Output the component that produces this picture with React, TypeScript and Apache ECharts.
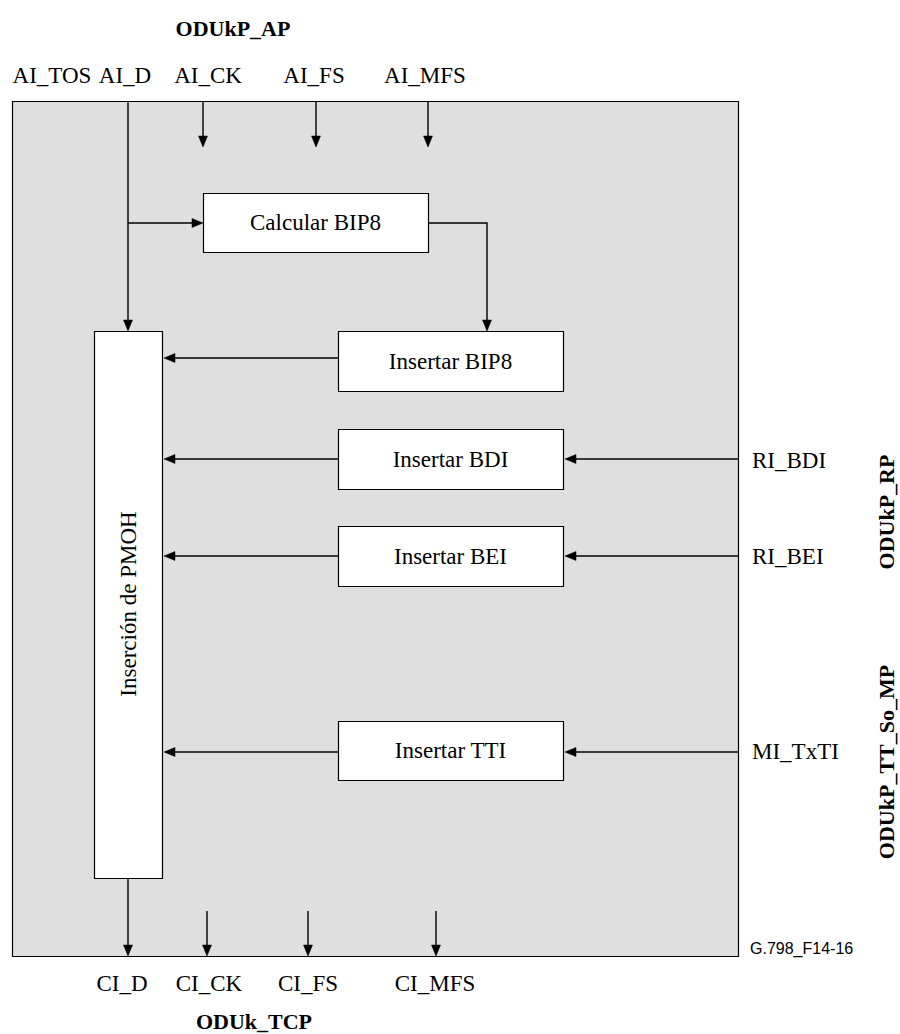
import React, { useEffect, useRef } from "react";
import * as echarts from "echarts";

const topTitle = "ODUkP_AP";
const bottomTitle = "ODUk_TCP";
const topLabels = ["AI_TOS", "AI_D", "AI_CK", "AI_FS", "AI_MFS"];
const topLabelX = [52, 125, 208, 314, 425];
const bottomLabels = ["CI_D", "CI_CK", "CI_FS", "CI_MFS"];
const bottomLabelX = [122, 209, 308, 435];
const rightLabels = ["RI_BDI", "RI_BEI", "MI_TxTI"];
const rightLabelY = [460, 556, 751];
const sideTitles = ["ODUkP_RP", "ODUkP_TT_So_MP"];
const sideTitleY = [512, 762];
const blockNames = ["Calcular BIP8", "Insertar BIP8", "Insertar BDI", "Insertar BEI", "Insertar TTI"];
const pmohName = "Inserción de PMOH";
const figId = "G.798_F14-16";

const SERIF = "'Liberation Serif', 'Times New Roman', serif";

function arrow(pts: number[][], key: string): any[] {
  const n = pts.length;
  const [x1, y1] = pts[n - 2];
  const [x2, y2] = pts[n - 1];
  const dx = x2 - x1, dy = y2 - y1;
  const len = Math.hypot(dx, dy);
  const ux = dx / len, uy = dy / len;
  const L = 11, W = 4.5;
  const bx = x2 - ux * L, by = y2 - uy * L;
  const head = [
    [x2, y2],
    [bx - uy * W, by + ux * W],
    [bx + uy * W, by - ux * W],
  ];
  const linePts = pts.slice(0, n - 1).concat([[x2 - ux * 4, y2 - uy * 4]]);
  return [
    { type: "polyline", shape: { points: linePts }, style: { stroke: "#000", lineWidth: 1.4, fill: null } },
    { type: "polygon", shape: { points: head }, style: { fill: "#000", stroke: "#000", lineWidth: 0.5 } },
  ];
}

export default function App() {
  const ref = useRef<HTMLDivElement>(null);
  useEffect(() => {
    if (!ref.current) return;
    const chart = echarts.init(ref.current, null, { renderer: "svg" });

    const els: any[] = [];
    // main gray frame
    els.push({ type: "rect", shape: { x: 12.5, y: 101.5, width: 726, height: 855 }, style: { fill: "#dfdfdf", stroke: "#000", lineWidth: 1.2 } });

    const boxes = [
      [203, 193, 225, 59],
      [338, 331, 225, 60],
      [338, 429, 225, 60],
      [338, 526, 225, 60],
      [338, 721, 225, 59],
    ];
    boxes.forEach((b, i) => {
      els.push({ type: "rect", shape: { x: b[0] + 0.5, y: b[1] + 0.5, width: b[2], height: b[3] }, style: { fill: "#fff", stroke: "#000", lineWidth: 1.2 } });
      els.push({ type: "text", x: b[0] + b[2] / 2, y: b[1] + b[3] / 2, style: { text: blockNames[i], font: `23px ${SERIF}`, fill: "#000", align: "center", verticalAlign: "middle" } });
    });
    // PMOH block
    els.push({ type: "rect", shape: { x: 94.5, y: 331.5, width: 68, height: 547 }, style: { fill: "#fff", stroke: "#000", lineWidth: 1.2 } });
    els.push({ type: "text", x: 128, y: 604, rotation: Math.PI / 2, style: { text: pmohName, font: `23px ${SERIF}`, fill: "#000", align: "center", verticalAlign: "middle" } });

    const arrows: number[][][] = [
      [[128, 101], [128, 331]],
      [[128, 223], [203, 223]],
      [[428, 223], [487, 223], [487, 331]],
      [[203, 101], [203, 147]],
      [[316, 101], [316, 147]],
      [[428, 101], [428, 147]],
      [[338, 358], [164, 358]],
      [[338, 459], [164, 459]],
      [[338, 556], [164, 556]],
      [[338, 752], [164, 752]],
      [[738, 459], [565, 459]],
      [[738, 556], [565, 556]],
      [[738, 752], [565, 752]],
      [[128, 878], [128, 956]],
      [[207, 911], [207, 956]],
      [[308, 911], [308, 956]],
      [[436, 911], [436, 956]],
    ];
    arrows.forEach((a, i) => els.push(...arrow(a, "a" + i)));

    els.push({ type: "text", x: 233, y: 28, style: { text: topTitle, font: `bold 22px ${SERIF}`, fill: "#000", align: "center", verticalAlign: "middle" } });
    topLabels.forEach((t, i) => els.push({ type: "text", x: topLabelX[i], y: 75, style: { text: t, font: `23px ${SERIF}`, fill: "#000", align: "center", verticalAlign: "middle" } }));
    bottomLabels.forEach((t, i) => els.push({ type: "text", x: bottomLabelX[i], y: 983, style: { text: t, font: `23px ${SERIF}`, fill: "#000", align: "center", verticalAlign: "middle" } }));
    els.push({ type: "text", x: 254, y: 1021, style: { text: bottomTitle, font: `bold 22px ${SERIF}`, fill: "#000", align: "center", verticalAlign: "middle" } });
    rightLabels.forEach((t, i) => els.push({ type: "text", x: 752, y: rightLabelY[i], style: { text: t, font: `23px ${SERIF}`, fill: "#000", align: "left", verticalAlign: "middle" } }));
    sideTitles.forEach((t, i) => els.push({ type: "text", x: 886, y: sideTitleY[i], rotation: Math.PI / 2, style: { text: t, font: `bold 22px ${SERIF}`, fill: "#000", align: "center", verticalAlign: "middle" } }));
    els.push({ type: "text", x: 750, y: 948, style: { text: figId, font: `16px 'Liberation Sans', Arial, sans-serif`, fill: "#000", align: "left", verticalAlign: "middle" } });

    chart.setOption({ animation: false, backgroundColor: "#fff", graphic: { elements: els } });
    return () => chart.dispose();
  }, []);
  return <div ref={ref} style={{ position: "fixed", left: 0, top: 0, width: 900, height: 1034 }} />;
}
